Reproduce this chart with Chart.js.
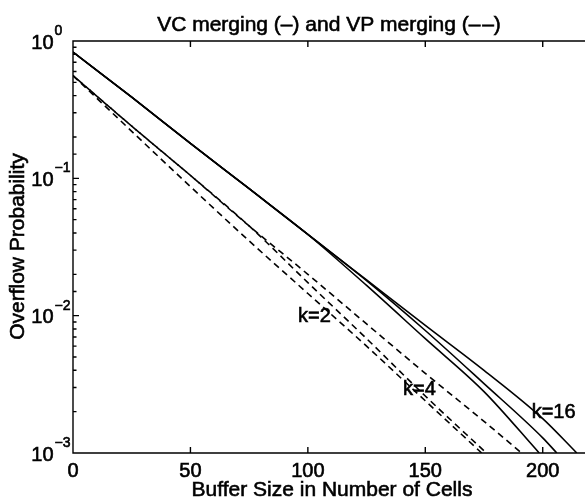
<!DOCTYPE html>
<html lang="en">
<head>
<meta charset="UTF-8">
<title>VC merging and VP merging</title>
<style>
  body { margin: 0; background: #fff; }
  #wrap { width: 585px; height: 502px; position: relative; }
</style>
<script src="https://cdn.jsdelivr.net/npm/chart.js"></script>
</head>
<body>
<div id="wrap"><canvas id="chart"></canvas></div>
<script>
// buffer size (cells) and overflow probability
// VC merging (solid)
const vcX2  = [0, 25, 50, 75, 100, 125, 150, 175, 198.5];
const vcK2  = [0.83, 0.39, 0.18, 0.084, 0.039, 0.0166, 0.0068, 0.0028, 0.001];
const vcX4  = [0, 25, 50, 75, 100, 125, 150, 175, 200, 206];
const vcK4  = [0.83, 0.39, 0.18, 0.084, 0.039, 0.0180, 0.0078, 0.0032, 0.00129, 0.001];
const vcX16 = [0, 25, 50, 75, 100, 125, 150, 175, 200, 214.5];
const vcK16 = [0.83, 0.39, 0.18, 0.084, 0.039, 0.0182, 0.0085, 0.0040, 0.00178, 0.001];
// VP merging (dashed)
const vpX2  = [0, 25, 50, 75, 100, 125, 150, 174];
const vpK2  = [0.56, 0.22, 0.087, 0.035, 0.0145, 0.0060, 0.0024, 0.001];
const vpX4  = [0, 25, 50, 75, 100, 125, 150, 176];
const vpK4  = [0.56, 0.24, 0.105, 0.045, 0.0174, 0.0068, 0.0026, 0.001];
const vpX16 = [0, 25, 50, 75, 100, 125, 150, 175, 191];
const vpK16 = [0.56, 0.24, 0.105, 0.045, 0.020, 0.0087, 0.0038, 0.0017, 0.001];

// axes
const xTicks = [0, 50, 100, 150, 200];
const yTicks = [1, 0.1, 0.01, 0.001];
const yExp   = ['0', '\u22121', '\u22122', '\u22123'];

// curve labels: [text, x, y]
const curveLabels = [['k=2', 95.8, 0.0090], ['k=4', 140.5, 0.00264], ['k=16', 195.3, 0.0018]];

const FONT = "'Liberation Sans', Arial, Helvetica, sans-serif";

function pts(xs, ys) { return xs.map((v, i) => ({x: v, y: ys[i]})); }

function line(label, xs, ys, dashed, offset) {
  return {
    label: label,
    data: pts(xs, ys),
    borderColor: '#000',
    borderWidth: 1.6,
    borderDash: dashed ? [6.5, 4.5] : [],
    borderDashOffset: offset || 0,
    pointRadius: 0,
    cubicInterpolationMode: 'monotone',
    fill: false
  };
}

// scanned-looking text: fill plus a thin stroke
function text(ctx, s, px, py) {
  ctx.fillText(s, px, py);
  ctx.strokeText(s, px, py);
}

// frame, inward ticks and all text
const frame = {
  id: 'frame',
  afterDraw(chart) {
    const {ctx, chartArea: a, scales: {x, y}} = chart;
    ctx.save();
    ctx.strokeStyle = '#000';
    ctx.lineWidth = 1.4;
    ctx.beginPath();
    ctx.moveTo(a.right, a.top);
    ctx.lineTo(a.left, a.top);
    ctx.lineTo(a.left, a.bottom);
    ctx.lineTo(a.right, a.bottom);
    xTicks.forEach(v => {
      const px = x.getPixelForValue(v);
      ctx.moveTo(px, a.bottom); ctx.lineTo(px, a.bottom - 6);
      ctx.moveTo(px, a.top); ctx.lineTo(px, a.top + 6);
    });
    y.ticks.forEach(t => {
      const py = y.getPixelForValue(t.value);
      const lg = Math.log10(t.value);
      const len = Math.abs(lg - Math.round(lg)) < 1e-6 ? 6 : 3.5;
      ctx.moveTo(a.left, py); ctx.lineTo(a.left + len, py);
    });
    ctx.stroke();

    ctx.fillStyle = '#000';
    ctx.lineWidth = 0.6;
    ctx.textBaseline = 'alphabetic';
    // title
    ctx.font = '21px ' + FONT;
    ctx.textAlign = 'center';
    text(ctx, 'VC merging (\u2013) and VP merging (\u2013\u200a\u2013)', (a.left + a.right) / 2, 31);

    // x tick labels
    ctx.font = '20px ' + FONT;
    xTicks.forEach(v => text(ctx, String(v), x.getPixelForValue(v), 477));
    // x title
    ctx.font = '21px ' + FONT;
    text(ctx, 'Buffer Size in Number of Cells', 332, 496);

    // y tick labels 10^n
    yTicks.forEach((v, i) => {
      const py = y.getPixelForValue(v);
      ctx.font = '20px ' + FONT;
      ctx.textAlign = 'right';
      text(ctx, '10', 53.5, py + 7.5);
      ctx.font = '14px ' + FONT;
      ctx.textAlign = 'left';
      text(ctx, yExp[i], 54.5, py - 6);
    });

    // y title
    ctx.save();
    ctx.translate(24, 246.5);
    ctx.rotate(-Math.PI / 2);
    ctx.font = '21px ' + FONT;
    ctx.textAlign = 'center';
    text(ctx, 'Overflow Probability', 0, 0);
    ctx.restore();

    // curve labels
    ctx.font = '20px ' + FONT;
    ctx.textAlign = 'left';
    curveLabels.forEach(([txt, lx, ly]) => {
      text(ctx, txt, x.getPixelForValue(lx), y.getPixelForValue(ly));
    });
    ctx.restore();
  }
};

new Chart(document.getElementById('chart'), {
  type: 'line',
  data: {
    datasets: [
      line('VC k=2', vcX2, vcK2, false),
      line('VC k=4', vcX4, vcK4, false),
      line('VC k=16', vcX16, vcK16, false),
      line('VP k=2', vpX2, vpK2, true),
      line('VP k=4', vpX4, vpK4, true),
      line('VP k=16', vpX16, vpK16, true, 5.5)
    ]
  },
  options: {
    responsive: true,
    maintainAspectRatio: false,
    animation: false,
    layout: { padding: { left: 73, top: 41, right: 0, bottom: 49 } },
    plugins: { legend: { display: false }, tooltip: { enabled: false } },
    scales: {
      x: {
        type: 'linear', min: 0, max: 218,
        ticks: { display: false },
        grid: { display: false, drawTicks: false },
        border: { display: false }
      },
      y: {
        type: 'logarithmic', min: 0.001, max: 1,
        ticks: { display: false },
        grid: { display: false, drawTicks: false },
        border: { display: false }
      }
    }
  },
  plugins: [frame]
});
</script>
</body>
</html>
